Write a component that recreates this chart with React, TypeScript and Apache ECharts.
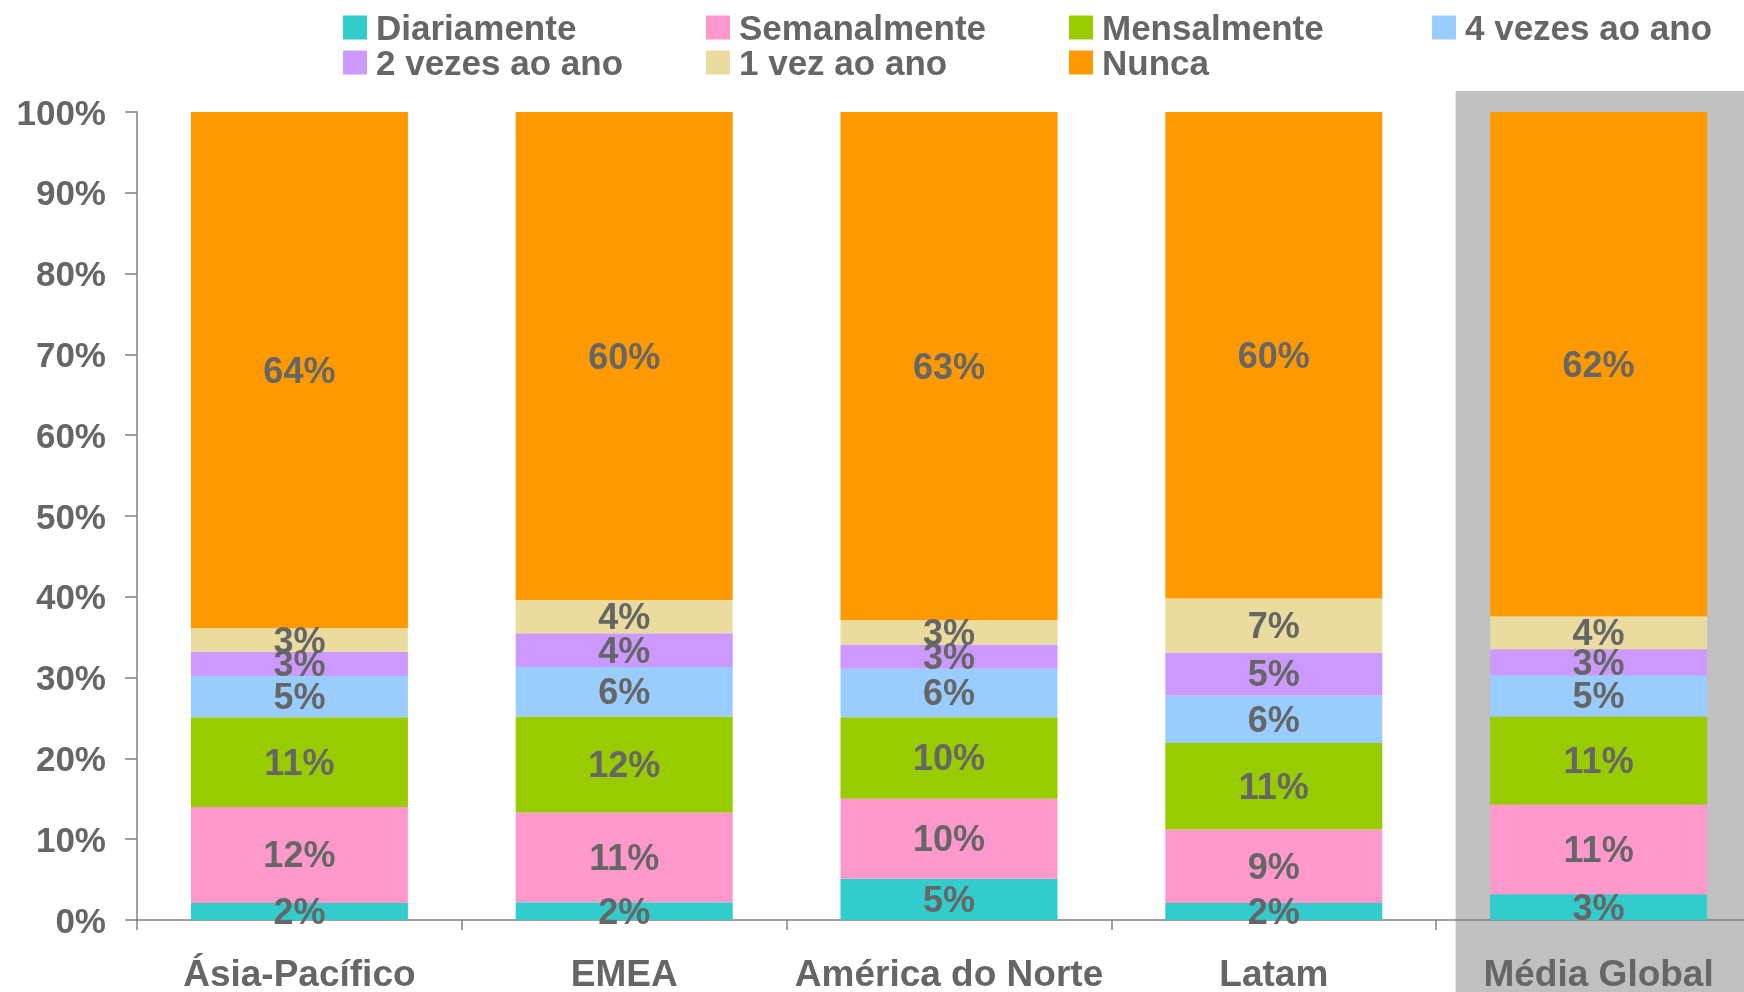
import React, { useEffect, useRef } from "react";
import * as echarts from "echarts";

const categories = ["Ásia-Pacífico", "EMEA", "América do Norte", "Latam", "Média Global"];
const seriesNames = ["Diariamente", "Semanalmente", "Mensalmente", "4 vezes ao ano", "2 vezes ao ano", "1 vez ao ano", "Nunca"];
const diariamente = [2.1, 2.2, 5.1, 2.1, 3.2];
const semanalmente = [11.9, 11.1, 9.9, 9.1, 11.1];
const mensalmente = [11.1, 11.9, 10.1, 10.7, 10.9];
const quatroVezes = [5.1, 6.1, 6.0, 5.9, 5.1];
const duasVezes = [3.0, 4.2, 3.0, 5.3, 3.2];
const umaVez = [2.9, 4.1, 3.0, 6.7, 4.1];
const nunca = [63.9, 60.4, 62.9, 60.2, 62.4];
const yTicks = { min: 0, max: 100, interval: 10 };

const colors = ["#33CCCC", "#FF99CC", "#99CC00", "#99CCFF", "#CC99FF", "#EADC9E", "#FF9900"];
const TEXT = "#666666";
const FONT = "'Liberation Sans', Arial, sans-serif";

export default function App() {
  const ref = useRef<HTMLDivElement>(null);
  useEffect(() => {
    if (!ref.current) return;
    const chart = echarts.init(ref.current, null, { renderer: "svg" });
    const allData = [diariamente, semanalmente, mensalmente, quatroVezes, duasVezes, umaVez, nunca];
    chart.setOption({
      animation: false,
      color: colors,
      textStyle: { fontFamily: FONT },
      legend: {
        left: 338,
        top: 5,
        width: 1460,
        itemWidth: 24,
        itemHeight: 24,
        itemGap: 0,
        icon: "rect",
        selectedMode: false,
        data: seriesNames,
        textStyle: {
          fontFamily: FONT,
          fontSize: 35,
          fontWeight: "bold",
          color: TEXT,
          width: 330,
          lineHeight: 35,
          padding: [0, 0, 0, 4],
        },
      },
      grid: { left: 137, top: 112, bottom: 69, right: 0, containLabel: false },
      xAxis: {
        type: "category",
        data: categories,
        axisLine: { lineStyle: { color: "#808080", width: 1.5 } },
        axisTick: { show: true, length: 10, lineStyle: { color: "#808080", width: 1.5 } },
        axisLabel: {
          interval: 0,
          margin: 35,
          fontFamily: FONT,
          fontSize: 37,
          fontWeight: "bold",
          color: TEXT,
        },
      },
      yAxis: {
        type: "value",
        min: yTicks.min,
        max: yTicks.max,
        interval: yTicks.interval,
        splitLine: { show: false },
        axisLine: { show: true, lineStyle: { color: "#808080", width: 1.5 } },
        axisTick: { show: true, length: 12, lineStyle: { color: "#808080", width: 1.5 } },
        axisLabel: {
          formatter: "{value}%",
          margin: 31,
          fontFamily: FONT,
          fontSize: 35,
          fontWeight: "bold",
          color: TEXT,
        },
      },
      series: seriesNames.map((name, i) => ({
        name,
        type: "bar",
        stack: "total",
        barWidth: 217,
        data: allData[i],
        itemStyle: { color: colors[i] },
        emphasis: { disabled: true },
        label: {
          show: true,
          position: "inside",
          formatter: (p: any) => Math.round(p.value) + "%",
          fontFamily: FONT,
          fontSize: 36,
          fontWeight: "bold",
          color: TEXT,
        },
      })),
    });
    const cx = chart.convertToPixel({ xAxisIndex: 0 }, "Média Global") as number;
    const yTop = chart.convertToPixel({ yAxisIndex: 0 }, yTicks.max) as number;
    chart.setOption({
      graphic: [
        {
          type: "rect",
          z: -10,
          silent: true,
          shape: { x: cx - 143, y: yTop - 21, width: 320, height: 992 - (yTop - 21) },
          style: { fill: "#C0C0C0" },
        },
      ],
    });
    return () => chart.dispose();
  }, []);
  return (
    <div style={{ position: "fixed", left: 0, top: 0, width: 1744, height: 992, overflow: "hidden" }}>
      <div ref={ref} style={{ position: "absolute", left: 0, top: 0, width: 1761, height: 992 }} />
    </div>
  );
}
